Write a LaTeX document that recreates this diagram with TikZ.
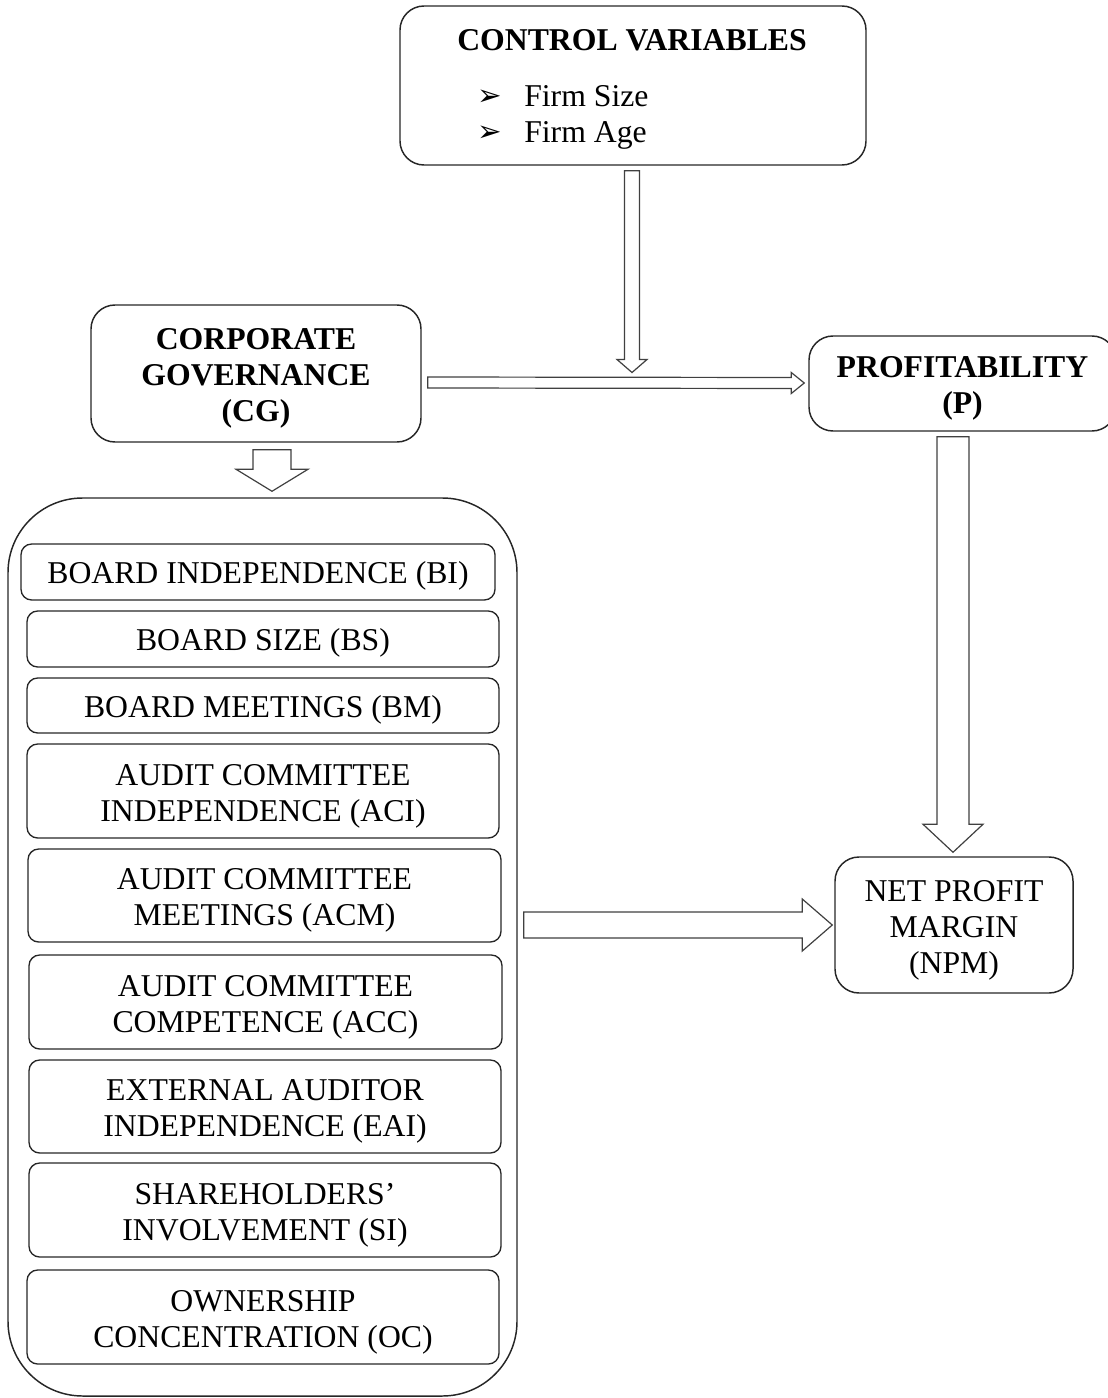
\documentclass[tikz,border=0pt]{standalone}
\usepackage{fontspec}
\setmainfont{Liberation Serif}
\newfontfamily\symfont{DejaVu Sans}
\usetikzlibrary{fit,calc}
\tikzset{
  txt/.style={font=\fontsize{23.8}{27}\selectfont, align=center, inner sep=0pt},
  btxt/.style={font=\bfseries\fontsize{23.8}{27}\selectfont, align=center, inner sep=0pt},
  box/.style={draw=black!85, line width=1.1pt, rounded corners=18pt, inner sep=0pt},
  item/.style={draw=black!85, line width=1pt, rounded corners=8pt, inner sep=0pt},
  cont/.style={draw=black!85, line width=1.1pt, rounded corners=56pt, inner sep=0pt},
  blk/.style={draw=black!75, line width=0.9pt, fill=white, line join=miter},
  bul/.style={anchor=base, inner sep=0pt, font=\symfont\fontsize{22}{24}\selectfont},
}
% block arrow pointing down: start, tip, half shaft, half head, head length
\newcommand\blkdown[5]{\draw[blk] ($(#1)+(-#3,0)$) -- ($(#1)+(#3,0)$) -- ($(#2)+(#3,-#5)$) -- ($(#2)+(#4,-#5)$) -- (#2) -- ($(#2)+(-#4,-#5)$) -- ($(#2)+(-#3,-#5)$) -- cycle;}
% block arrow pointing right
\newcommand\blkright[5]{\draw[blk] ($(#1)+(0,-#3)$) -- ($(#2)+(-#5,-#3)$) -- ($(#2)+(-#5,-#4)$) -- (#2) -- ($(#2)+(-#5,#4)$) -- ($(#2)+(-#5,#3)$) -- ($(#1)+(0,#3)$) -- cycle;}
\begin{document}
\begin{tikzpicture}[x=0.75pt,y=-0.75pt]
\useasboundingbox (0,0) rectangle (1107,1398);

% control variables
\node[box, fit={(400,6)(866,165)}] (cv) {};
\node[btxt, anchor=base] (cvt) at (632,51) {CONTROL VARIABLES};
\node[bul] (b1) at (490,106) {➢};
\node[txt, anchor=base west] (f1) at (524,107) {Firm Size};
\node[bul] (b2) at (490,142) {➢};
\node[txt, anchor=base west] (f2) at (524,143) {Firm Age};

% corporate governance
\node[box, fit={(91,305)(421,442)}] (cg) {};
\node[btxt] (cgt) at ($(cg.center)+(0,5)$) {CORPORATE\\GOVERNANCE\\(CG)};
% profitability
\node[box, fit={(809,336)(1116,431)}] (p) {};
\node[btxt] (pt) at ($(p.center)+(0,5)$) {PROFITABILITY\\(P)};
% net profit margin
\node[box, fit={(835,857)(1073,993)}] (npm) {};
\node[txt] (npmt) at ($(npm.center)+(0,5)$) {NET PROFIT\\MARGIN\\(NPM)};

% container
\node[cont, fit={(8,498)(517,1396)}] (cont) {};
\node[item, fit={(21,544)(495,600)}] (bi) {};
\node[txt] (bit) at ($(bi.center)+(0,4)$) {BOARD INDEPENDENCE (BI)};
\node[item, fit={(27,611)(499,667)}] (bs) {};
\node[txt] (bst) at ($(bs.center)+(0,4)$) {BOARD SIZE (BS)};
\node[item, fit={(27,678)(499,733)}] (bm) {};
\node[txt] (bmt) at ($(bm.center)+(0,4)$) {BOARD MEETINGS (BM)};
\node[item, fit={(27,744)(499,838)}] (aci) {};
\node[txt] (acit) at ($(aci.center)+(0,5)$) {AUDIT COMMITTEE\\INDEPENDENCE (ACI)};
\node[item, fit={(28,849)(501,942)}] (acm) {};
\node[txt] (acmt) at ($(acm.center)+(0,5)$) {AUDIT COMMITTEE\\MEETINGS (ACM)};
\node[item, fit={(29,955)(502,1049)}] (acc) {};
\node[txt] (acct) at ($(acc.center)+(0,5)$) {AUDIT COMMITTEE\\COMPETENCE (ACC)};
\node[item, fit={(29,1060)(501,1153)}] (eai) {};
\node[txt] (eait) at ($(eai.center)+(0,5)$) {EXTERNAL AUDITOR\\INDEPENDENCE (EAI)};
\node[item, fit={(29,1163)(501,1257)}] (si) {};
\node[txt] (sit) at ($(si.center)+(0,5)$) {SHAREHOLDERS’\\INVOLVEMENT (SI)};
\node[item, fit={(27,1270)(499,1364)}] (oc) {};
\node[txt] (oct) at ($(oc.center)+(0,5)$) {OWNERSHIP\\CONCENTRATION (OC)};

% connector end points
\coordinate (a2s) at ($(cg.east)+(6,9)$);
\coordinate (a2e) at ($(p.west)+(-4,-0.5)$);
\coordinate (a1s) at ($(cv.south)+(-1,5)$);
\coordinate (a1e) at ($(a1s |- a2s)+(0,-10)$);
\coordinate (a3s) at ($(cg.south)+(16,7)$);
\coordinate (a3e) at ($(cont.north)+(9.5,-6)$);
\coordinate (a4s) at ($(p.south)+(-9.5,5)$);
\coordinate (a4e) at ($(a4s |- npm.north)+(0,-4)$);
\coordinate (a5s) at ($(cont.east)+(6,-22)$);
\coordinate (a5e) at ($(npm.west)+(-2,0)$);

% block arrows
\blkright{a2s}{a2e}{5.5}{10.5}{13}
\blkdown{a1s}{a1e}{7.5}{15}{13}
\blkdown{a3s}{a3e}{19}{36}{22}
\blkdown{a4s}{a4e}{16}{30}{28}
\blkright{a5s}{a5e}{13}{26}{30}
\end{tikzpicture}
\end{document}
